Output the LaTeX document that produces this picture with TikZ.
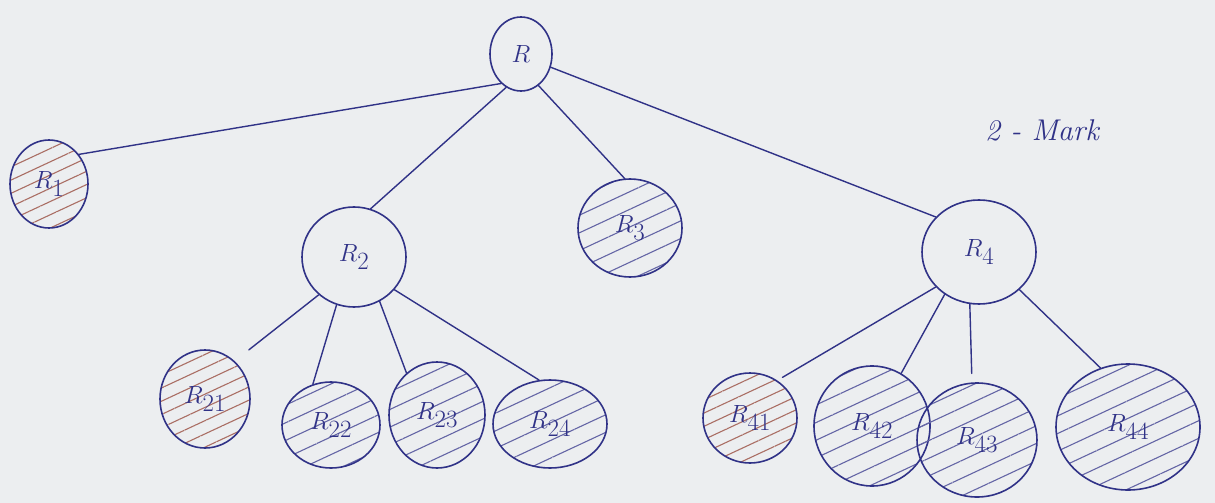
\documentclass[tikz,border=0pt]{standalone}
\usetikzlibrary{shapes.geometric,patterns.meta}
\definecolor{ink}{RGB}{48,50,135}
\definecolor{paper}{RGB}{236,238,240}
\definecolor{redink}{RGB}{170,110,100}
\begin{document}
\begin{tikzpicture}[x=1pt,y=-1pt,
  nd/.style={ellipse, draw=ink, line width=1.6pt, inner sep=0pt, text=ink,
             font=\fontsize{34}{36}\selectfont},
  leafblue/.style={nd, pattern={Lines[angle=25,distance=16pt,line width=1.1pt]}, pattern color=ink!75},
  leafred/.style={nd, pattern={Lines[angle=25,distance=12pt,line width=1.1pt]}, pattern color=redink},
  link/.style={draw=ink, line width=1.4pt, line cap=round}]

% paper
\fill[paper] (0,0) rectangle (1215,503);
\useasboundingbox (0,0) rectangle (1215,503);

% root and first level
\node[nd, minimum width=62pt, minimum height=74pt] (R) at (521,54) {$R$};
\node[leafred, minimum width=78pt, minimum height=88pt] (R1) at (49,184) {$R_1$};
\node[nd, minimum width=104pt, minimum height=100pt] (R2) at (354,257) {$R_2$};
\node[leafblue, minimum width=104pt, minimum height=98pt] (R3) at (630,228) {$R_3$};
\node[nd, minimum width=114pt, minimum height=104pt] (R4) at (979,252) {$R_4$};

% children of R2
\node[leafred, minimum width=90pt, minimum height=98pt] (R21) at (205,399) {$R_{21}$};
\node[leafblue, minimum width=98pt, minimum height=86pt] (R22) at (331,425) {$R_{22}$};
\node[leafblue, minimum width=96pt, minimum height=106pt] (R23) at (437,415) {$R_{23}$};
\node[leafblue, minimum width=114pt, minimum height=88pt] (R24) at (550,424) {$R_{24}$};

% children of R4
\node[leafred, minimum width=94pt, minimum height=90pt] (R41) at (750,418) {$R_{41}$};
\node[leafblue, minimum width=116pt, minimum height=120pt] (R42) at (872,426) {$R_{42}$};
\node[leafblue, minimum width=120pt, minimum height=114pt] (R43) at (977,440) {$R_{43}$};
\node[leafblue, minimum width=144pt, minimum height=126pt] (R44) at (1128,427) {$R_{44}$};

% note
\node[text=ink, font=\fontsize{30}{32}\selectfont\itshape] (note) at (1042,130) {2 - Mark};

% connectors
\draw[link] (R.236) -- (R1.45);
\draw[link] (R.246) -- (R2.71);
\draw[link] (R.299) -- (R3.96);
\draw[link] (R.336) -- (R4.141);

\draw[link, shorten >=18pt] (R2.227) -- (R21.52);
\draw[link] (R2.250) -- (R22.114);
\draw[link] (R2.300) -- (R23.126);
\draw[link] (R2.321) -- (R24.104);

\draw[link, shorten >=6pt] (R4.219) -- (R41.54);
\draw[link] (R4.231) -- (R42.61);
\draw[link, shorten >=9pt] (R4.260) -- (R43.95);
\draw[link] (R4.317) -- (R44.115);
\end{tikzpicture}
\end{document}
